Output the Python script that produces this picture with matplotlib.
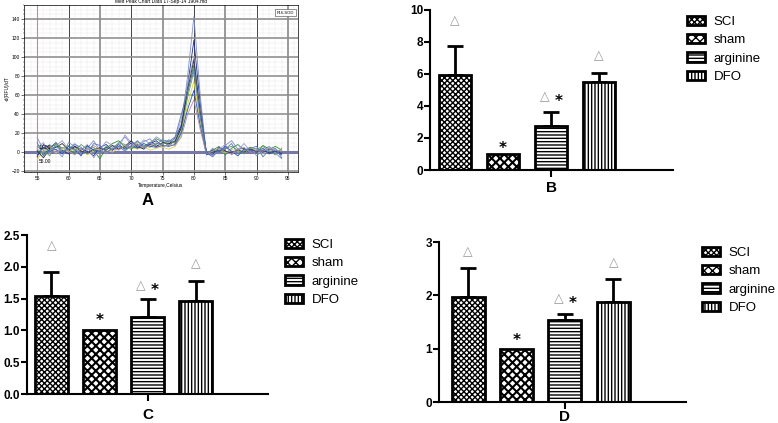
import matplotlib
matplotlib.use('Agg')
import matplotlib.pyplot as plt
from matplotlib.patches import Patch
import numpy as np

plt.rcParams['font.family'] = ['Liberation Sans', 'DejaVu Sans']
plt.rcParams['hatch.linewidth'] = 1.0

# ---- panel A: melt peak curves ----
temps = list(range(55, 95))
melt_colors = ['#8090c8', '#1f2f8f', '#2e8b3e', '#d8d84a', '#9a9ad0',
               '#303030', '#6a9a6a', '#3050b0', '#b090b0', '#5a7ab8']
melt_curves = [
    [15, 3, 8, 2, -5, 10, 6, -3, 4, 12, 2, -2, 5, 9, 16, 8, 4, 11, 14, 6, 9, 13, 10, 30, 80, 143, 60, -3, 4, -2, 7, 12, 3, 0, 5, -4, 2, 6, -1, -7],
    [-5, 8, 4, 10, 2, -2, 6, 3, 1, -4, 5, 8, 2, 6, 4, 10, 7, 3, 9, 12, 6, 8, 15, 28, 70, 118, 50, -2, -3, 5, 1, -2, 3, 4, -1, 2, 0, 3, 1, -2],
    [2, -3, 5, 8, 1, 4, -2, 3, 6, 2, -7, 4, 9, 12, 5, 3, 8, 6, 10, 14, 11, 7, 12, 25, 62, 92, 40, -1, 2, 6, -3, 4, 8, 2, 5, -1, 7, 3, 6, 2],
    [-8, 2, 6, -1, 3, 0, 4, 2, -3, 1, 3, 2, 0, 4, 2, 5, 3, 6, 2, 4, 5, 3, 6, 18, 50, 75, 30, -2, 1, 2, -1, 3, 0, 2, 4, 1, -2, 2, 3, 0],
    [4, 10, -2, 7, 12, 3, 9, 2, 8, -6, 3, 11, 7, 4, 18, 10, 6, 13, 9, 16, 12, 10, 14, 35, 72, 100, 45, 0, -4, 3, 8, -3, 2, 9, 1, 4, -2, 5, 0, 3],
    [1, -6, 3, 5, 9, 2, 6, 1, -1, 3, 4, 2, 7, 3, 6, 12, 5, 4, 8, 6, 10, 9, 11, 26, 66, 97, 42, -1, 0, 2, 1, -1, 2, 0, 3, 1, 2, -1, 1, 0],
    [6, 2, -4, 9, 4, 7, 1, 8, 3, 5, -1, 6, 3, 10, 8, 4, 11, 7, 5, 9, 8, 12, 9, 22, 58, 85, 36, -2, 3, -1, 4, 6, 2, -2, 5, 3, 6, 1, -3, 4],
    [-3, 5, 1, 3, -2, 6, 3, -4, 7, 2, 1, 5, 2, 8, 3, 6, 4, 9, 6, 5, 7, 6, 8, 20, 45, 65, 28, -3, 2, 0, 6, 1, -4, 3, 2, 0, 4, -2, 1, -3],
    [3, 0, 7, -2, 5, 1, -3, 4, 2, 7, 3, -1, 4, 2, 7, 5, 9, 4, 7, 10, 6, 8, 7, 16, 40, 55, 24, -2, 1, 4, 0, -2, 3, 5, -1, 2, 1, 4, 2, 1],
    [10, -4, 2, 6, 0, 3, 8, 5, -2, 9, 7, 0, 3, 6, 1, 7, 12, 5, 10, 8, 13, 11, 16, 40, 65, 88, 38, -1, -5, 2, 3, 9, -2, 1, 4, 6, -5, 2, 4, -6],
]

# ---- panels B, C, D ----
groups = ['SCI', 'sham', 'arginine', 'DFO']
hatches = ['xxxxxx', 'xxxx', '-----', '|||||']
hatch_lw = [1.0, 1.5, 1.0, 1.0]

b_vals = [5.95, 1.0, 2.75, 5.5]
b_err = [1.8, 0, 0.87, 0.55]
b_tri = [9.3, None, 4.55, 7.1]
b_star = [None, 1.6, 4.55, None]

c_vals = [1.545, 1.0, 1.215, 1.46]
c_err = [0.375, 0, 0.275, 0.32]
c_tri = [2.33, None, 1.69, 2.04]
c_star = [None, 1.22, 1.69, None]

d_vals = [1.96, 1.0, 1.53, 1.88]
d_err = [0.55, 0, 0.12, 0.42]
d_tri = [2.8, None, 1.93, 2.61]
d_star = [None, 1.24, 1.93, None]

W, H = 778, 423
fig = plt.figure(figsize=(7.78, 4.23), dpi=100)


def box(l, t, r, b):
    return [l / W, 1 - b / H, (r - l) / W, (b - t) / H]


def set_hlw(patch, lw):
    if hasattr(patch, 'set_hatch_linewidth'):
        patch.set_hatch_linewidth(lw)


# panel A
axA = fig.add_axes(box(24, 5, 298, 172))
for x in range(55, 96, 5):
    if x == 55:
        axA.axvline(x, color='#e08080', lw=0.8, zorder=1)
    elif x % 10 == 0:
        axA.axvline(x, color='#404040', lw=0.7, zorder=1)
    else:
        axA.axvline(x, color='#909090', lw=1.3, zorder=1)
for y in range(-20, 160, 20):
    axA.axhline(y, color='#909090', lw=1.2, zorder=1)
axA.grid(True, which='minor', ls=':', lw=0.3, color='#c0c0c0')
axA.axhline(0, color='#7878a8', lw=2.2, zorder=2)
for vals, col in zip(melt_curves, melt_colors):
    axA.plot(temps, vals, color=col, lw=0.6, zorder=3)
axA.set_xlim(52.9, 96.6)
axA.set_ylim(-21, 155)
axA.set_xticks(range(55, 96, 5))
axA.set_yticks(range(-20, 141, 20))
axA.set_xticks(np.arange(53, 97, 1), minor=True)
axA.set_yticks(np.arange(-20, 156, 5), minor=True)
axA.tick_params(labelsize=3.5, length=2, width=0.4, pad=1)
axA.tick_params(which='minor', length=1, width=0.3)
for s in axA.spines.values():
    s.set_linewidth(0.5)
axA.set_xlabel('Temperature,Celsius', fontsize=3.5, labelpad=1)
axA.set_ylabel('-d(RFU)/dT', fontsize=3.5, labelpad=1)
axA.set_title('Melt Peak Chart Data 17-Sep-14 1904.md', fontsize=3.5, pad=1.5)
axA.text(55.3, 2, '1.000', fontsize=3.5, va='bottom')
axA.text(55.3, -10, '55.00', fontsize=3.5, va='center')
axA.text(0.955, 0.955, 'F16-SOD', transform=axA.transAxes, fontsize=3, ha='center', va='center',
         bbox=dict(boxstyle='square,pad=0.4', fc='white', ec='#404040', lw=0.4))
fig.text(148 / W, 1 - 200 / H, 'A', fontsize=12, fontweight='bold', ha='center', va='center')


def put_star(ax, x, y):
    ax.annotate('*', (x, y), xytext=(0, -3), textcoords='offset points', color='black',
                fontsize=11, fontweight='bold', ha='center', va='center', family=['DejaVu Sans'])


def put_tri(ax, x, y):
    ax.text(x, y, '△', color='#999999', fontsize=9, ha='center', va='center')


def bar_panel(ax, vals, errs, tri, star, ymax, yticks, ylabels, name, xlim, lpad):
    for i, (v, h) in enumerate(zip(vals, hatches)):
        bars = ax.bar(i, v, width=0.68, color='white', edgecolor='black', lw=2, hatch=h, zorder=2)
        set_hlw(bars.patches[0], hatch_lw[i])
        if errs[i] > 0:
            ax.errorbar(i, v, yerr=[[0], [errs[i]]], fmt='none', ecolor='black',
                        elinewidth=2, capsize=6, capthick=2, zorder=1)
        if tri[i] is not None and star[i] is not None:
            put_tri(ax, i - 0.13, tri[i])
            put_star(ax, i + 0.15, star[i])
        elif tri[i] is not None:
            put_tri(ax, i, tri[i])
        elif star[i] is not None:
            put_star(ax, i, star[i])
    ax.set_xlim(*xlim)
    ax.set_ylim(0, ymax)
    ax.set_yticks(yticks)
    ax.set_yticklabels(ylabels, fontweight='bold', fontsize=8.5)
    ax.set_xticks([2])
    ax.set_xticklabels([name], fontweight='bold', fontsize=11)
    ax.spines['top'].set_visible(False)
    ax.spines['right'].set_visible(False)
    ax.spines['left'].set_linewidth(1.5)
    ax.spines['bottom'].set_linewidth(1.5)
    ax.tick_params(axis='y', length=4, width=1.5, pad=1)
    ax.tick_params(axis='x', length=5, width=1.5, pad=lpad)


def add_legend(ax, x, y):
    handles = [Patch(facecolor='white', edgecolor='black', lw=2, hatch=h) for h in hatches]
    for p, lw in zip(handles, hatch_lw):
        set_hlw(p, lw)
    ax.legend(handles, groups, loc='upper left', bbox_to_anchor=(x / W, 1 - y / H),
              bbox_transform=fig.transFigure, frameon=False, fontsize=9.5,
              handlelength=1.4, handleheight=0.7, handletextpad=0.6,
              labelspacing=0.45, borderpad=0, borderaxespad=0)


axB = fig.add_axes(box(430, 10, 673, 170))
bar_panel(axB, b_vals, b_err, b_tri, b_star, 10, [0, 2, 4, 6, 8, 10],
          ['0', '2', '4', '6', '8', '10'], 'B', (-0.52, 4.54), 3)
add_legend(axB, 687, 16)

axC = fig.add_axes(box(27, 235, 268, 394))
bar_panel(axC, c_vals, c_err, c_tri, c_star, 2.5, [0, 0.5, 1.0, 1.5, 2.0, 2.5],
          ['0.0', '0.5', '1.0', '1.5', '2.0', '2.5'], 'C', (-0.51, 4.51), 5)
add_legend(axC, 285, 239)

axD = fig.add_axes(box(439, 242, 686, 402))
bar_panel(axD, d_vals, d_err, d_tri, d_star, 3, [0, 1, 2, 3],
          ['0', '1', '2', '3'], 'D', (-0.6, 4.5), 1)
add_legend(axD, 702, 247)

fig.savefig('out.png', dpi=100)
